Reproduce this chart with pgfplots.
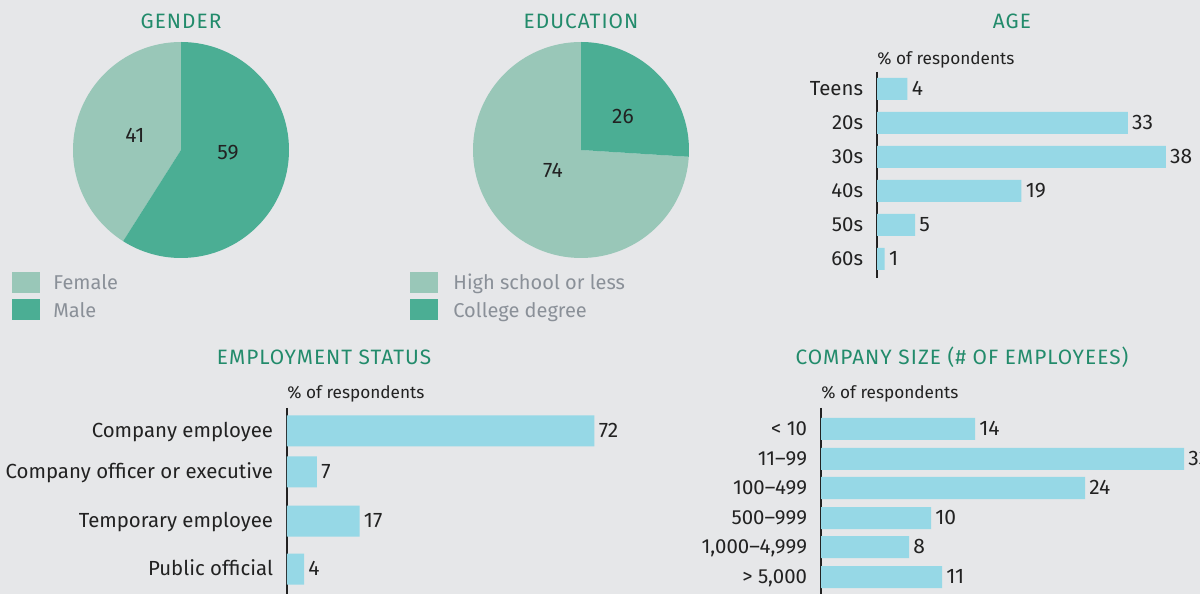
\documentclass[border=0pt]{standalone}
\usepackage{pgfplots}
\pgfplotsset{compat=1.18}
\usepackage{fontspec}
\setmainfont{Fira Sans}
\newfontfamily\ttlfam{Fira Sans}[LetterSpace=5]
\definecolor{bg}{HTML}{E6E7E9}
\definecolor{ttl}{HTML}{228B6B}
\definecolor{lgreen}{HTML}{99C7B8}
\definecolor{dgreen}{HTML}{4BAE94}
\definecolor{barc}{HTML}{96D8E6}
\definecolor{lgd}{HTML}{8A9098}
\definecolor{txt}{HTML}{222222}

\newcommand{\lblfont}{\fontsize{10.2}{12}\selectfont}
\newcommand{\valfont}{\fontsize{10.5}{12}\selectfont}
\newcommand{\ttlfont}{\ttlfam\fontsize{10.4}{12}\selectfont}
\newcommand{\lgdfont}{\fontsize{10}{12}\selectfont}
\newcommand{\smfont}{\fontsize{8.6}{10}\selectfont}

% pie values
\def\female{41}
\def\male{59}
\def\hschool{74}
\def\college{26}

\pgfplotsset{
  hbar/.style={
    scale only axis, xbar, xmin=0, y dir=reverse,
    axis x line=none, axis y line*=left,
    axis line style={draw=txt, line width=0.8pt},
    ytick style={draw=none},
    yticklabel style={font=\lblfont, text=txt, inner sep=0pt,
      anchor=base east, xshift=-2.5pt, yshift=-0.345em},
    nodes near coords,
    nodes near coords style={font=\valfont, text=txt, inner sep=0pt,
      anchor=base west, xshift=2pt, yshift=-0.345em},
    /pgf/number format/assume math mode=true,
    clip=false,
  },
  pie/.style={
    scale only axis, width=108pt, height=108pt, hide axis,
    xmin=-1, xmax=1, ymin=-1, ymax=1, clip=false, anchor=center,
  },
}

\begin{document}
\begin{tikzpicture}[x=0.5pt, y=0.5pt]
\useasboundingbox (0,0) rectangle (1200,594);
\fill[bg] (0,0) rectangle (1200,594);
\clip (0,0) rectangle (1200,594);

% titles
\node[text=ttl, font=\ttlfont, anchor=base] at (181,565) {GENDER};
\node[text=ttl, font=\ttlfont, anchor=base] at (581,565) {EDUCATION};
\node[text=ttl, font=\ttlfont, anchor=base] at (1012,565) {AGE};
\node[text=ttl, font=\ttlfont, anchor=base] at (324,229) {EMPLOYMENT STATUS};
\node[text=ttl, font=\ttlfont, anchor=base] at (962,229) {COMPANY SIZE (\# OF EMPLOYEES)};

% gender pie
\begin{axis}[pie, at={(90.5pt,222pt)}]
\fill[lgreen] (axis cs:0,0) -- (axis cs:0,1) arc[start angle=90, end angle={90+3.6*\female}, radius=54pt] -- cycle;
\fill[dgreen] (axis cs:0,0) -- (axis cs:0,1) arc[start angle=90, end angle={90-3.6*\male}, radius=54pt] -- cycle;
\node[font=\valfont, text=txt] at (axis cs:-0.426,0.139) {\female};
\node[font=\valfont, text=txt] at (axis cs:0.435,-0.028) {\male};
\end{axis}

% education pie
\begin{axis}[pie, at={(290.5pt,222pt)}]
\fill[lgreen] (axis cs:0,0) -- (axis cs:0,1) arc[start angle=90, end angle={90+3.6*\hschool}, radius=54pt] -- cycle;
\fill[dgreen] (axis cs:0,0) -- (axis cs:0,1) arc[start angle=90, end angle={90-3.6*\college}, radius=54pt] -- cycle;
\node[font=\valfont, text=txt] at (axis cs:0.389,0.306) {\college};
\node[font=\valfont, text=txt] at (axis cs:-0.259,-0.194) {\hschool};
\end{axis}

% pie legends
\fill[lgreen] (12,301) rectangle (40,322);
\fill[dgreen] (12,274) rectangle (40,295);
\node[font=\lgdfont, text=lgd, anchor=base west, inner sep=0pt] at (53,304) {Female};
\node[font=\lgdfont, text=lgd, anchor=base west, inner sep=0pt] at (53,276) {Male};
\fill[lgreen] (410,301) rectangle (438,322);
\fill[dgreen] (410,274) rectangle (438,295);
\node[font=\lgdfont, text=lgd, anchor=base west, inner sep=0pt] at (453,304) {High school or less};
\node[font=\lgdfont, text=lgd, anchor=base west, inner sep=0pt] at (453,276) {College degree};

% age
\node[font=\smfont, text=txt, anchor=base west, inner sep=0pt] at (877,529) {\% of respondents};
\begin{axis}[hbar, at={(438.5pt,261pt)}, anchor=north west,
  width=152pt, height=103pt, xmax=40, ymin=72, ymax=278, bar width=22,
  ytick={89,123,157,191,225,259},
  yticklabels={Teens,20s,30s,40s,50s,60s}]
\addplot[fill=barc, draw=none] coordinates {
  (4,89) (33,123) (38,157) (19,191) (5,225) (1,259)
};
\end{axis}

% employment status
\node[font=\smfont, text=txt, anchor=base west, inner sep=0pt] at (287,195) {\% of respondents};
\begin{axis}[hbar, at={(143.5pt,93pt)}, anchor=north west,
  width=160.1pt, height=96pt, xmax=75, ymin=408, ymax=600, bar width=31,
  ytick={431,472,521,569},
  yticklabels={Company employee,Company officer or executive,Temporary employee,Public official}]
\addplot[fill=barc, draw=none] coordinates {
  (72,431) (7,472) (17,521) (4,569)
};
\end{axis}

% company size
\node[font=\smfont, text=txt, anchor=base west, inner sep=0pt] at (821,195) {\% of respondents};
\begin{axis}[hbar, at={(410.5pt,93pt)}, anchor=north west,
  width=192.5pt, height=96pt, xmax=35, ymin=408, ymax=600, bar width=22,
  ytick={429,459,488,518,547,577},
  yticklabels={< 10,11–99,100–499,500–999,{1,000–4,999},{> 5,000}}]
\addplot[fill=barc, draw=none] coordinates {
  (14,429) (33,459) (24,488) (10,518) (8,547) (11,577)
};
\end{axis}
\end{tikzpicture}
\end{document}
